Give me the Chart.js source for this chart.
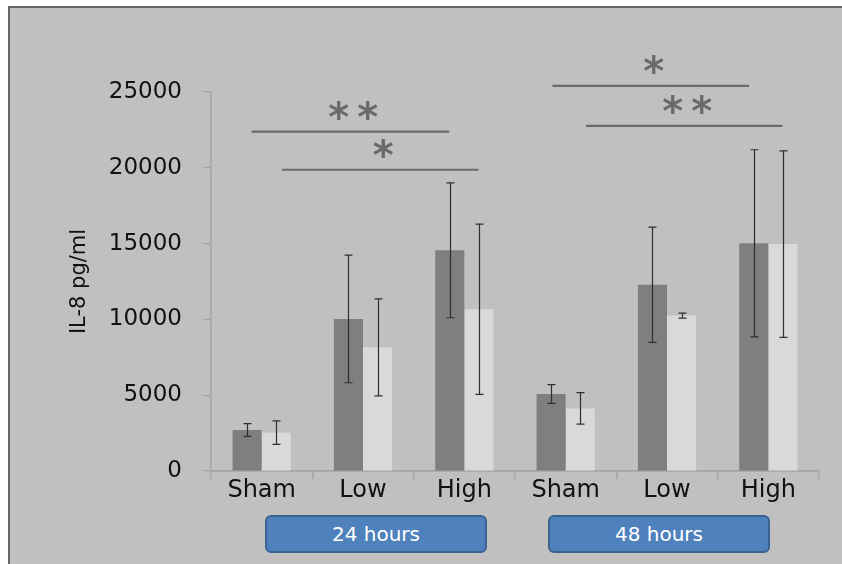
<!DOCTYPE html>
<html>
<head>
<meta charset="utf-8">
<script src="https://cdn.jsdelivr.net/npm/chart.js@4/dist/chart.umd.min.js"></script>
<style>
    html, body { margin: 0; padding: 0; background: #fff; }
    #wrap { position: relative; width: 842px; height: 564px; overflow: hidden; background: #fff; }
    #frame {
        position: absolute; left: 8px; top: 6px; width: 900px; height: 700px;
        background: #c0c0c0; border: 2px solid #666;
    }
    #chart { position: absolute; left: 0; top: 0; }
    .group-box {
        position: absolute; top: 515px; width: 218px; height: 34px;
        background: #4f81bd; border: 2px solid #3a6391; border-radius: 6px;
        color: #fff; font: 20px 'DejaVu Sans', sans-serif;
        display: flex; align-items: center; justify-content: center;
    }
</style>
</head>
<body>
<div id="wrap">
    <div id="frame"></div>
    <canvas id="chart" width="842" height="564"></canvas>
    <div class="group-box" style="left:265px;">24 hours</div>
    <div class="group-box" style="left:548px;">48 hours</div>
</div>
<script>
// ---- data ----
const categories = ['Sham', 'Low', 'High', 'Sham', 'Low', 'High'];
const darkValues = [2700, 10030, 14560, 5080, 12290, 15020];
const darkErrors = [420, 4210, 4450, 620, 3800, 6170];
const lightValues = [2530, 8160, 10670, 4130, 10250, 14970];
const lightErrors = [770, 3200, 5610, 1040, 170, 6150];

const yMin = 0;
const yMax = 25000;
const yStep = 5000;

// significance bars: from / to in category index units, height in pg/ml
const sigFrom = [-0.1, 0.2, 2.87, 3.2];
const sigTo = [1.85, 2.14, 4.81, 5.14];
const sigLevel = [22380, 19870, 25410, 22760];
const sigMarks = ['**', '*', '*', '**'];

const FONT = 'DejaVu Sans';
const AXIS_GRAY = '#a4a4a4';

/* ---- error bars ---- */
const errorBarPlugin = {
    id: 'errorBars',
    afterDatasetsDraw(chart) {
        const { ctx } = chart;
        const y = chart.scales.y;
        const errs = [darkErrors, lightErrors];
        ctx.save();
        ctx.strokeStyle = '#2e2e2e';
        ctx.lineWidth = 1.2;
        chart.data.datasets.forEach((ds, di) => {
            const meta = chart.getDatasetMeta(di);
            meta.data.forEach((bar, i) => {
                const v = ds.data[i];
                const e = errs[di][i];
                const top = y.getPixelForValue(v + e);
                const bot = y.getPixelForValue(v - e);
                const x = Math.round(bar.x) + 0.5;
                ctx.beginPath();
                ctx.moveTo(x, top); ctx.lineTo(x, bot);
                ctx.moveTo(x - 4, top); ctx.lineTo(x + 4, top);
                ctx.moveTo(x - 4, bot); ctx.lineTo(x + 4, bot);
                ctx.stroke();
            });
        });
        ctx.restore();
    }
};

/* ---- significance lines with stars ---- */
const significancePlugin = {
    id: 'significance',
    afterDraw(chart) {
        const { ctx } = chart;
        const x = chart.scales.x;
        const y = chart.scales.y;
        ctx.save();
        ctx.strokeStyle = '#6a6a6a';
        ctx.fillStyle = '#6a6a6a';
        ctx.lineWidth = 2.2;
        ctx.font = 'bold 40px ' + FONT;
        ctx.textAlign = 'center';
        ctx.textBaseline = 'alphabetic';
        sigLevel.forEach((lvl, i) => {
            const x0 = x.getPixelForValue(sigFrom[i]);
            const x1 = x.getPixelForValue(sigTo[i]);
            const py = y.getPixelForValue(lvl);
            ctx.beginPath();
            ctx.moveTo(x0, py); ctx.lineTo(x1, py);
            ctx.stroke();
            const mid = (x0 + x1) / 2 + 3;
            const n = sigMarks[i].length;
            for (let k = 0; k < n; k++) {
                const cx = mid + (k - (n - 1) / 2) * 29;
                ctx.fillText('*', cx, py - 1);
            }
        });
        ctx.restore();
    }
};

new Chart(document.getElementById('chart'), {
    type: 'bar',
    data: {
        labels: categories,
        datasets: [
            {
                data: darkValues,
                backgroundColor: '#7f7f7f',
                borderWidth: 0,
                barPercentage: 1,
                categoryPercentage: 0.575,
            },
            {
                data: lightValues,
                backgroundColor: '#d9d9d9',
                borderWidth: 0,
                barPercentage: 1,
                categoryPercentage: 0.575,
            },
        ],
    },
    options: {
        responsive: false,
        animation: false,
        devicePixelRatio: 1,
        layout: { padding: { top: 92, right: 23, bottom: 0, left: 0 } },
        plugins: {
            legend: { display: false },
            tooltip: { enabled: false },
        },
        scales: {
            x: {
                afterFit(scale) { scale.height = 93; },
                grid: {
                    drawOnChartArea: false,
                    drawTicks: true,
                    tickLength: 8,
                    color: AXIS_GRAY,
                    lineWidth: 1.5,
                },
                border: { color: AXIS_GRAY, width: 1.8 },
                ticks: {
                    color: '#111',
                    font: { family: FONT, size: 24 },
                    padding: -3,
                },
            },
            y: {
                min: yMin,
                max: yMax,
                afterFit(scale) { scale.width = 211; },
                grid: {
                    drawOnChartArea: false,
                    drawTicks: true,
                    tickLength: 8,
                    color: AXIS_GRAY,
                    lineWidth: 1.2,
                },
                border: { color: AXIS_GRAY, width: 1.5 },
                ticks: {
                    stepSize: yStep,
                    color: '#111',
                    font: { family: FONT, size: 23 },
                    padding: 21,
                    callback: (v) => String(v),
                },
                title: {
                    display: true,
                    text: 'IL-8 pg/ml',
                    color: '#111',
                    font: { family: FONT, size: 21 },
                    padding: { top: 67 },
                },
            },
        },
    },
    plugins: [errorBarPlugin, significancePlugin],
});
</script>
</body>
</html>
